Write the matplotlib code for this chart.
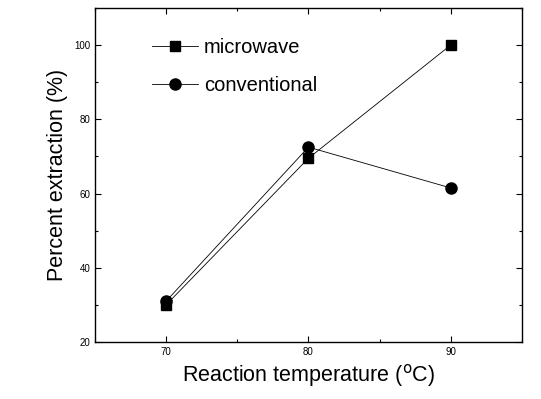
import matplotlib
matplotlib.use("Agg")
import matplotlib.pyplot as plt
from matplotlib.ticker import MultipleLocator

# data
temps = [70, 80, 90]
microwave = [30.0, 69.5, 100.0]
conventional = [31.0, 72.5, 61.5]

plt.rcParams['font.family'] = ['Liberation Sans', 'DejaVu Sans']

fig = plt.figure(figsize=(5.41, 3.99), dpi=100)
ax = fig.add_axes([0.1756, 0.143, 0.789, 0.837])

ax.plot(temps, microwave, color='black', lw=0.6, marker='s', ms=7, label='microwave')
ax.plot(temps, conventional, color='black', lw=0.6, marker='o', ms=8, label='conventional')

ax.set_xlim(65, 95)
ax.set_ylim(20, 110)
ax.xaxis.set_major_locator(MultipleLocator(10))
ax.xaxis.set_minor_locator(MultipleLocator(5))
ax.yaxis.set_major_locator(MultipleLocator(20))
ax.yaxis.set_minor_locator(MultipleLocator(10))
ax.tick_params(which='both', direction='in', top=True, right=True, labelsize=7)
ax.tick_params(which='major', length=4, width=0.8)
ax.tick_params(which='minor', length=2.5, width=0.8)
for s in ax.spines.values():
    s.set_linewidth(1.0)

ax.set_xlabel('Reaction temperature ($^{\\rm o}$C)', fontsize=15.5)
ax.set_ylabel('Percent extraction (%)', fontsize=15.5)

ax.legend(loc='upper left', bbox_to_anchor=(0.133, 0.91), frameon=False, fontsize=14.5,
          handlelength=2.3, handletextpad=0.3, labelspacing=0.95,
          borderpad=0, borderaxespad=0)

fig.savefig('out.png', dpi=100)
